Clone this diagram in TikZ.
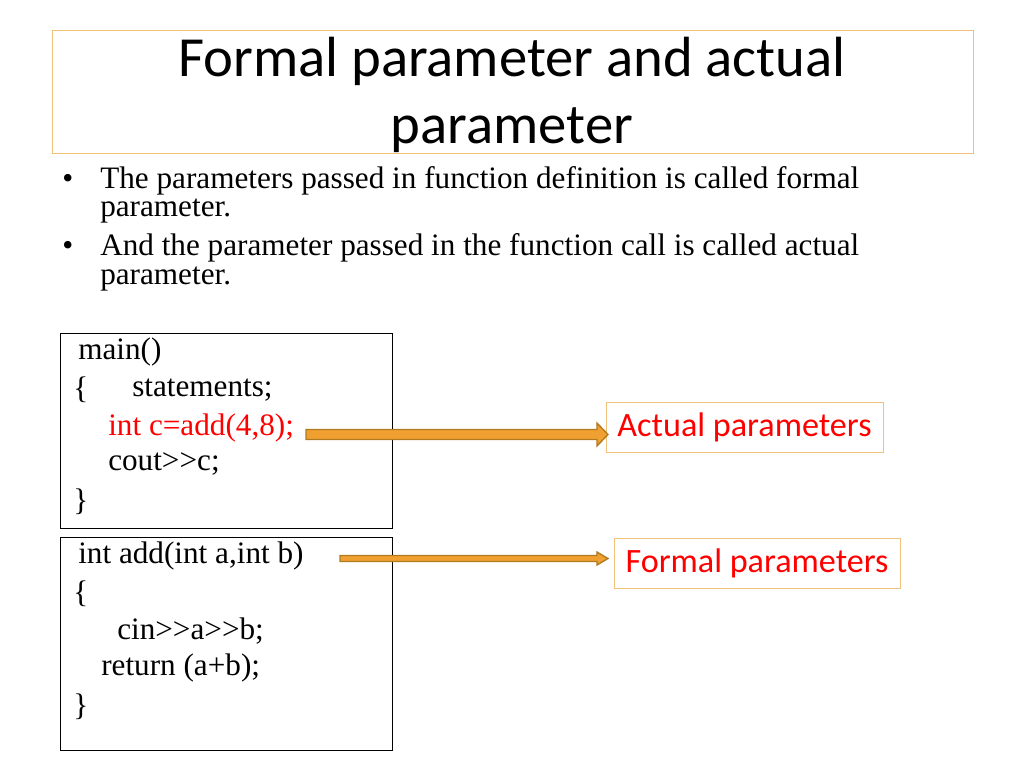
\documentclass[tikz,border=0pt]{standalone}
\usepackage{fontspec}
\setmainfont{Liberation Serif}
\newfontfamily\calfont{Carlito}
\definecolor{bord}{HTML}{F2C27A}
\definecolor{arrf}{HTML}{F0A030}
\definecolor{arrd}{HTML}{B07A20}
\begin{document}
\begin{tikzpicture}[x=0.75pt,y=-0.75pt,
  txt/.style={anchor=west,inner sep=0pt,font=\fontsize{23.4}{25}\selectfont},
  lbl/.style={draw=bord,inner sep=0pt,font=\calfont\fontsize{25.6}{27}\selectfont,text=red},
  codebox/.style={draw=black,line width=0.6pt},
  barrow/.style={fill=arrf,draw=arrd,line width=1pt}]
\useasboundingbox (0,0) rectangle (1024,768);
\node[draw=bord,minimum width=921*0.75pt,minimum height=123*0.75pt,inner sep=0pt] (title) at (512.5,91.5) {};
\node[align=center,font=\calfont\fontsize{42.5}{50}\selectfont] (tt) at (512,95) {Formal parameter and actual\\parameter};
\node[txt] (b1) at (62,181) {•};
\node[txt] (l1) at (100,181) {The parameters passed in function definition is called formal};
\node[txt] (l2) at (100,211) {parameter.};
\node[txt] (b2) at (62,248) {•};
\node[txt] (l3) at (100,248) {And the parameter passed in the function call is called actual};
\node[txt] (l4) at (100,279) {parameter.};
\draw[codebox] (60,333) rectangle (392,528);
\draw[codebox] (60,537) rectangle (392,750);
\node[txt] (c1) at (78,352) {main()};
\node[txt] (c2) at (73,390) {\{};
\node[txt] (c3) at (132,390) {statements;};
\node[txt,text=red] (c4) at (108,428) {int c=add(4,8);};
\node[txt] (c5) at (108,464) {cout>{}>c;};
\node[txt] (c6) at (73,502) {\}};
\node[txt] (d1) at (78,556) {int add(int a,int b)};
\node[txt] (d2) at (73,594) {\{};
\node[txt] (d3) at (117,631) {cin>{}>a>{}>b;};
\node[txt] (d4) at (101,668) {return (a+b);};
\node[txt] (d5) at (73,707) {\}};
\node[lbl,minimum width=277*0.75pt,minimum height=50*0.75pt] (act) at (744.5,427) {Actual parameters};
\node[lbl,minimum width=286*0.75pt,minimum height=50*0.75pt] (for) at (757,563) {Formal parameters};
\draw[barrow] (306,429.5) -- (597,429.5) -- (597,423) -- (608,434.5) -- (597,446) -- (597,439.5) -- (306,439.5) -- cycle;
\draw[barrow] (340,555.5) -- (597,555.5) -- (597,552) -- (608,558.5) -- (597,565) -- (597,561.5) -- (340,561.5) -- cycle;
\end{tikzpicture}
\end{document}
